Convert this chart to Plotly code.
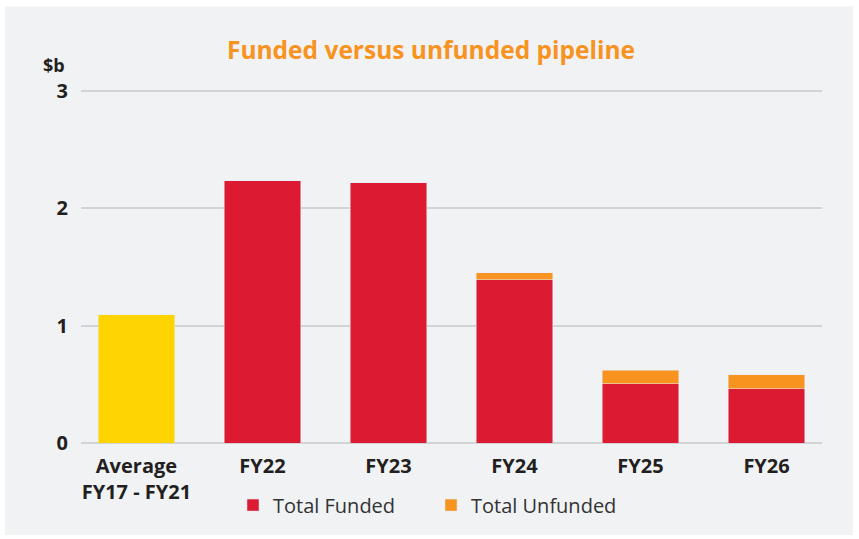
import plotly.graph_objects as go

categories = ["Average<br>FY17 - FY21", "FY22", "FY23", "FY24", "FY25", "FY26"]
average_values = [1.09, None, None, None, None, None]
funded_values = [None, 2.23, 2.215, 1.39, 0.505, 0.46]
unfunded_values = [None, 0, 0, 0.06, 0.115, 0.12]
y_ticks = [0, 1, 2, 3]
y_tick_labels = ["0", "1", "2", "3"]

RED = "#DC1B32"
ORANGE = "#F7931E"
YELLOW = "#FFD400"
PANEL = "#F0F2F4"
GRID = "#D1D3D5"
DARK = "#231F20"

W, H = 859, 539
YMAX = 3.03
L, R, B = 81, 37, 96
ph = 352 * YMAX / 3
T = H - B - ph
pw = W - L - R

def px_x(p):
    return (p - L) / pw

def px_y(p):
    return (H - B - p) / ph

fig = go.Figure()
fig.add_trace(go.Bar(x=categories, y=average_values, marker_color=YELLOW,
                     showlegend=False, name="Average", width=0.605))
fig.add_trace(go.Bar(x=categories, y=funded_values, marker_color=RED,
                     name="Total Funded", width=0.605))
fig.add_trace(go.Bar(x=categories, y=unfunded_values, marker_color=ORANGE,
                     name="Total Unfunded", width=0.605))

fig.update_layout(
    width=W, height=H,
    margin=dict(l=L, r=R, t=T, b=B),
    barmode="stack",
    paper_bgcolor="white",
    plot_bgcolor="rgba(0,0,0,0)",
    font=dict(family="Open Sans", color=DARK),
    title=dict(text="<b>Funded versus unfunded pipeline</b>",
               font=dict(size=24.5, color=ORANGE, family="Open Sans"),
               xref="paper", x=px_x(431), xanchor="center",
               yref="container", y=1 - 50 / H, yanchor="middle"),
    xaxis=dict(range=[-0.44, 5.44], showgrid=False, zeroline=False,
               showline=False, ticks="", ticklabelstandoff=9,
               tickfont=dict(size=20, color=DARK, family="Open Sans"),
               tickprefix="<b>", ticksuffix="</b>"),
    yaxis=dict(range=[0, YMAX], tickvals=y_ticks,
               ticktext=["<b>" + t + "</b>" for t in y_tick_labels],
               showgrid=True,
               gridcolor=GRID, gridwidth=2, zeroline=True,
               zerolinecolor=GRID, zerolinewidth=2, showline=False,
               ticks="", ticklabelstandoff=12,
               tickfont=dict(size=20, color=DARK, family="Open Sans")),
    legend=dict(orientation="h", x=px_x(233), xanchor="left",
                y=px_y(505), yanchor="middle", entrywidth=153,
                font=dict(size=20, color="#333333", family="Open Sans"),
                bgcolor="rgba(0,0,0,0)", traceorder="normal"),
    shapes=[dict(type="rect", xref="paper", yref="paper",
                 x0=px_x(5), x1=px_x(853), y0=px_y(535), y1=px_y(7),
                 fillcolor=PANEL, line=dict(width=0), layer="below")],
    annotations=[dict(text="<b>$b</b>", xref="paper", yref="paper",
                      x=px_x(67), y=px_y(66), xanchor="right", yanchor="middle",
                      showarrow=False,
                      font=dict(size=18, color=DARK, family="Open Sans"))],
)

fig.write_html("out.html", config={"displayModeBar": False},
               post_script="document.body.style.margin='0';")
